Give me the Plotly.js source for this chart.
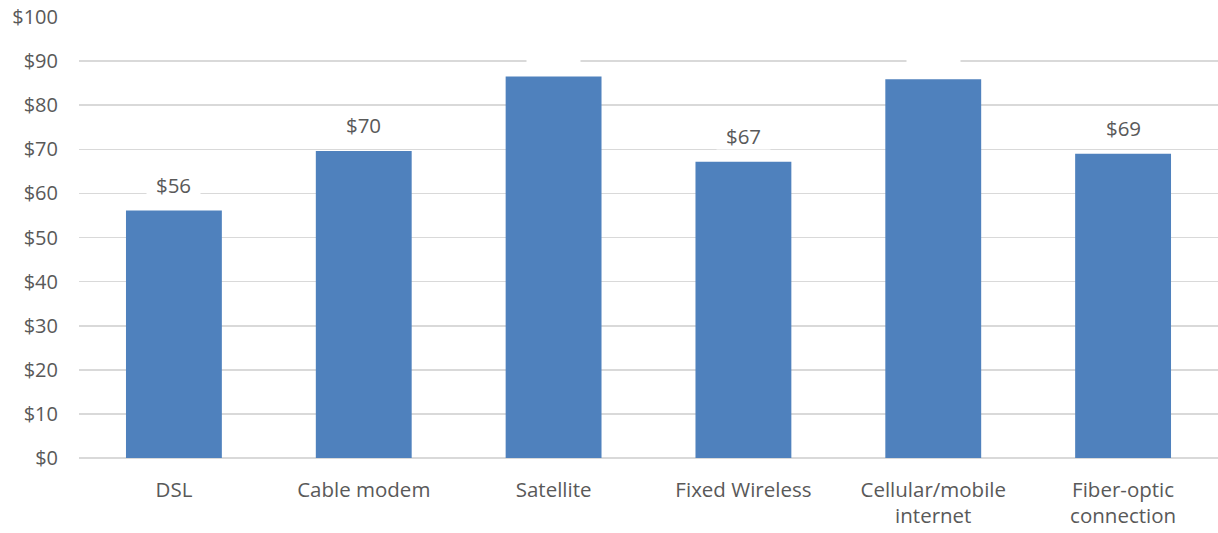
<!DOCTYPE html>
<html>
<head>
<meta charset="utf-8">
<script src="https://cdn.plot.ly/plotly-3.0.1.min.js"></script>
<style>
  html, body { margin: 0; padding: 0; background: #fff; }
  #chart { width: 1218px; height: 533px; }
</style>
</head>
<body>
<div id="chart"></div>
<script>
// Average monthly cost by connection type
const categories = ['DSL', 'Cable modem', 'Satellite', 'Fixed Wireless', 'Cellular/mobile<br>internet', 'Fiber-optic<br>connection'];
const monthlyCost = [56.1, 69.6, 86.5, 67.2, 85.9, 69.0];
// Value labels are printed only for these categories; the others keep an empty label box
const labelShown = [true, true, false, true, false, true];
const yTickValues = [0, 10, 20, 30, 40, 50, 60, 70, 80, 90, 100];
const yTickLabels = yTickValues.map(v => '$' + v);

const FONT = 'Open Sans, Liberation Sans, sans-serif';
const TEXT_COLOR = '#595959';

const trace = {
  type: 'bar',
  x: categories,
  y: monthlyCost,
  marker: { color: '#4f81bd' },
  hoverinfo: 'none'
};

const annotations = categories.map((c, i) => ({
  x: c,
  y: monthlyCost[i],
  xref: 'x',
  yref: 'y',
  text: labelShown[i] ? '$' + Math.round(monthlyCost[i]) : '\u00a0',
  showarrow: false,
  yanchor: 'middle',
  yshift: 26,
  width: 47,
  height: 20,
  borderpad: 3,
  bgcolor: '#ffffff',
  font: { family: FONT, size: 20.5, color: TEXT_COLOR }
}));

const layout = {
  width: 1218,
  height: 533,
  margin: { l: 79, r: 0, t: 17, b: 75 },
  paper_bgcolor: '#ffffff',
  plot_bgcolor: '#ffffff',
  bargap: 0.495,
  showlegend: false,
  font: { family: FONT, size: 20.5, color: TEXT_COLOR },
  xaxis: {
    type: 'category',
    showgrid: false,
    showline: false,
    zeroline: false,
    ticks: '',
    ticklabelstandoff: 17,
    tickfont: { family: FONT, size: 20.5, color: TEXT_COLOR }
  },
  yaxis: {
    range: [0, 100],
    tickvals: yTickValues,
    ticktext: yTickLabels,
    showgrid: true,
    gridcolor: '#d9d9d9',
    gridwidth: 1.6,
    zeroline: true,
    zerolinecolor: '#d9d9d9',
    zerolinewidth: 1.6,
    showline: false,
    ticks: '',
    ticklabelstandoff: 20,
    tickfont: { family: FONT, size: 20, color: TEXT_COLOR }
  },
  annotations: annotations
};

Plotly.newPlot('chart', [trace], layout, { displayModeBar: false, staticPlot: true });
</script>
</body>
</html>
